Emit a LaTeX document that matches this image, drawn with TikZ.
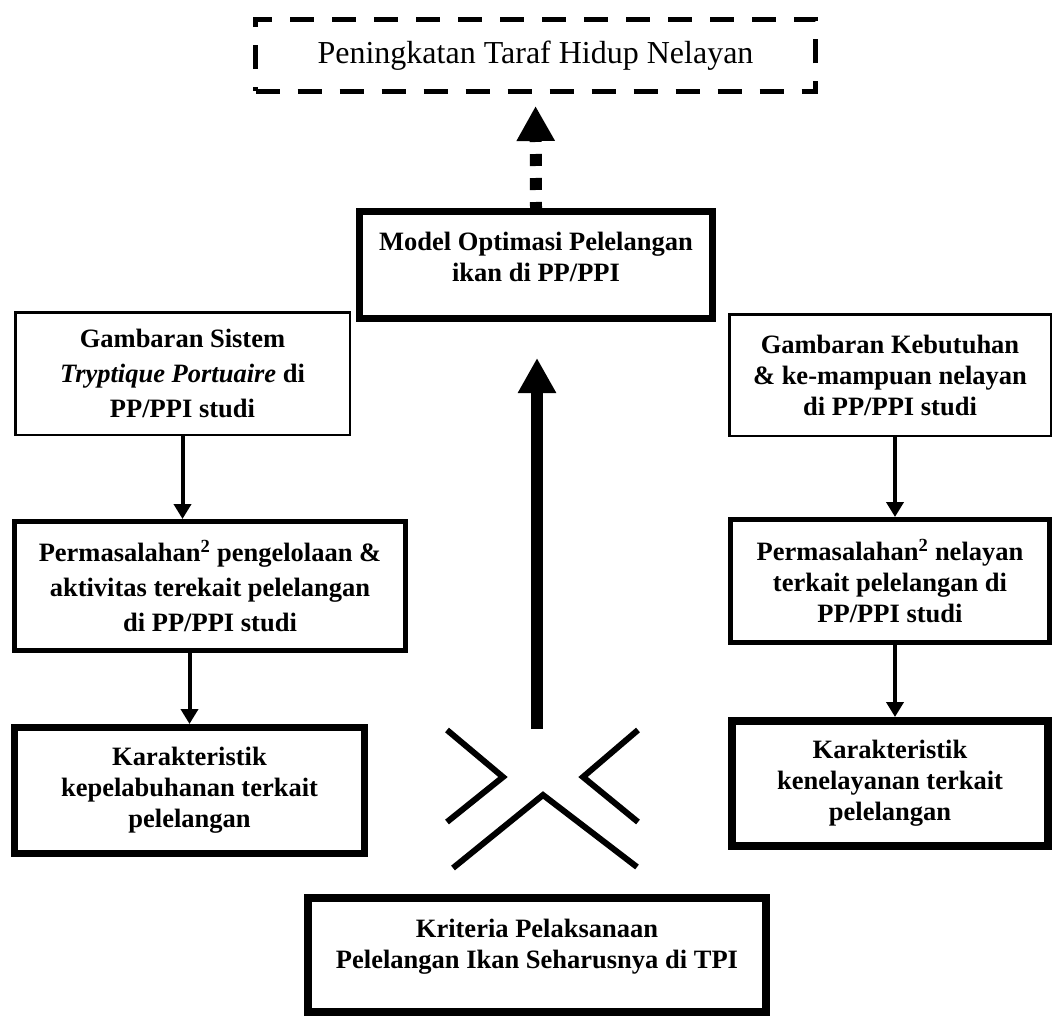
\documentclass[tikz,border=0pt]{standalone}
\usepackage{fontspec}
\setmainfont{Liberation Serif}
\usepackage{tikz}
\usetikzlibrary{arrows.meta,positioning}
\newcommand{\boxfont}{\fontsize{26.5}{31}\selectfont\bfseries}
\newcommand{\loosefont}{\fontsize{26.5}{35}\selectfont\bfseries}
\newcommand{\goalfont}{\fontsize{32}{38}\selectfont}
\tikzset{
  box/.style={
    draw=black, align=center, font=\boxfont, inner sep=0pt
  },
  loose/.style={font=\loosefont},
  boxThin/.style={box,line width=2.5pt},
  boxMid/.style={box,line width=5pt},
  boxThick/.style={box,line width=7pt},
  boxHeavy/.style={box,line width=8pt},
  goalBox/.style={draw=black, dash pattern=on 24pt off 18pt, line width=5pt,
    font=\goalfont, inner sep=0pt},
  arr/.style={-{Triangle[length=15pt,width=17pt]},line width=4pt},
  bigArr/.style={-{Triangle[length=35pt,width=36pt]},line width=12pt},
  chev/.style={line width=6pt}
}

\begin{document}
\begin{tikzpicture}[x=1pt,y=-1pt]
  \useasboundingbox (0,0) rectangle (1054,1016);
  % top: goal and model
  \node[goalBox,minimum width=560pt,minimum height=72pt] (goal) at (535.5,55.5)
    {Peningkatan Taraf Hidup Nelayan};
  \node[boxThick,minimum width=353pt,minimum height=107pt,text depth=17pt] (model) at (536,265)
    {Model Optimasi Pelelangan\\ikan di PP/PPI};
  % left column
  \node[boxThin,loose,minimum width=334.5pt,minimum height=122.5pt] (lsys) at (182.5,373.5)
    {Gambaran Sistem\\\textit{Tryptique Portuaire} di\\PP/PPI studi};
  \node[boxMid,loose,minimum width=391pt,minimum height=129pt] (lprob) at (210,586)
    {Permasalahan\textsuperscript{2} pengelolaan \&\\aktivitas terekait pelelangan\\di PP/PPI studi};
  \node[boxThick,minimum width=350pt,minimum height=126pt] (lchar) at (189.5,790.5)
    {Karakteristik\\kepelabuhanan terkait\\pelelangan};
  % right column
  \node[boxThin,minimum width=321.5pt,minimum height=121.5pt] (rsys) at (890,375)
    {Gambaran Kebutuhan\\\& ke-mampuan nelayan\\di PP/PPI studi};
  \node[boxMid,minimum width=319pt,minimum height=123pt] (rprob) at (890,581)
    {Permasalahan\textsuperscript{2} nelayan\\terkait pelelangan di\\PP/PPI studi};
  \node[boxHeavy,minimum width=316pt,minimum height=125pt] (rchar) at (890,783.5)
    {Karakteristik\\kenelayanan terkait\\pelelangan};
  % bottom
  \node[boxHeavy,minimum width=458pt,minimum height=114pt,text depth=23pt] (crit) at (537,955)
    {Kriteria Pelaksanaan\\Pelelangan Ikan Seharusnya di TPI};
  % arrows
  \draw[arr] (lsys.south) -- (lsys.south |- lprob.north);
  \draw[arr] (lprob.south -| lchar.north) -- (lchar.north);
  \draw[arr] ([xshift=5pt]rsys.south) -- ([xshift=5pt]rprob.north);
  \draw[arr] ([xshift=5pt]rprob.south) -- ([xshift=5pt]rchar.north);
  \coordinate (hubBase) at (537,729);
  \coordinate (hubTip) at (537,358);
  \draw[bigArr] (hubBase) -- (hubTip);
  \draw[bigArr,dash pattern=on 12pt off 12pt,dash phase=6pt,shorten >=12pt]
    (model.north) -- (goal.south);
  % converging marks
  \draw[chev] (447,730) -- (503,777) -- (447,822);
  \draw[chev] (638,730) -- (583,777) -- (638,822);
  \draw[chev] (453,868) -- (543,795) -- (637,867);
\end{tikzpicture}
\end{document}
